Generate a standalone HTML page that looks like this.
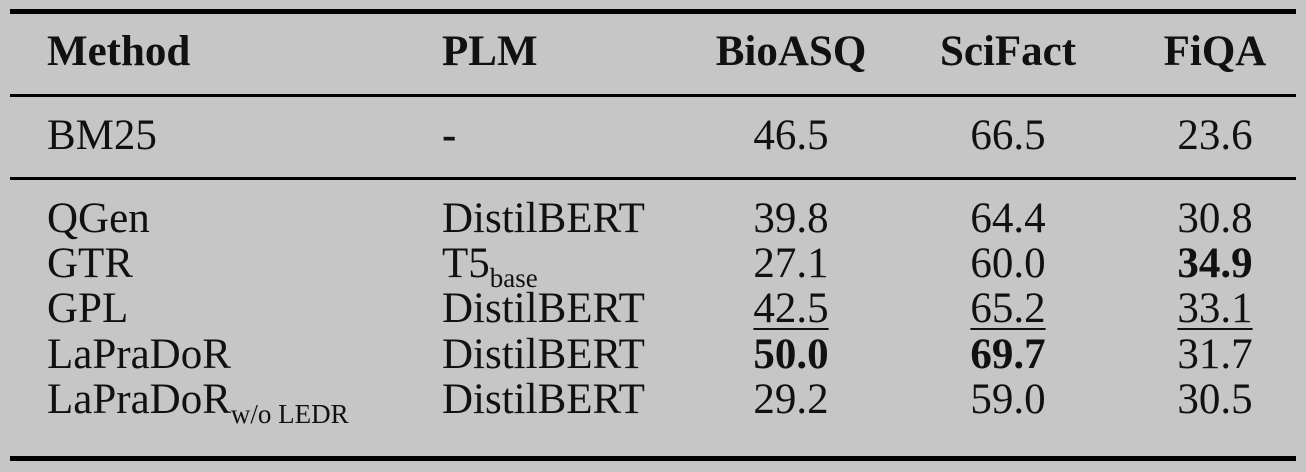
<!DOCTYPE html>
<html><head><meta charset="utf-8"><style>
body{margin:0;width:1306px;height:472px;background:#c6c6c6;position:relative;overflow:hidden;font-family:"Liberation Serif",serif;color:#111}
.r{position:absolute;left:10px;width:1286px;background:#000}
.t{position:absolute;font-size:43px;line-height:44px;white-space:nowrap}
.c{transform:translateX(-50%)}
.b{font-weight:bold}
.u{text-decoration:underline;text-decoration-thickness:2px;text-underline-offset:6px}
sub{font-size:27px;vertical-align:-10px;line-height:0}
</style></head><body>
<div class="r" style="top:9px;height:5px"></div>
<div class="r" style="top:94px;height:3px"></div>
<div class="r" style="top:177px;height:3px"></div>
<div class="r" style="top:456px;height:5px"></div>
<div id="cells"></div>
<script>
const rows=[["Method","PLM","BioASQ","SciFact","FiQA"],["BM25","-","46.5","66.5","23.6"],["QGen","DistilBERT","39.8","64.4","30.8"],["GTR","T5<sub>base</sub>","27.1","60.0","34.9"],["GPL","DistilBERT","42.5","65.2","33.1"],["LaPraDoR","DistilBERT","50.0","69.7","31.7"],["LaPraDoR<sub>w/o LEDR</sub>","DistilBERT","29.2","59.0","30.5"]];
const bold={"1-1":1,"3-4":1,"5-2":1,"5-3":1};
const under={"4-2":1,"4-3":1,"4-4":1};
const baselines=[67,151,234,279,324,370,415];
const xs=[47,442,791,1008,1215];
const root=document.getElementById('cells');
rows.forEach((row,i)=>row.forEach((txt,j)=>{
 const d=document.createElement('div');
 d.className='t'+(j>=2?' c':'')+(i===0||bold[i+'-'+j]?' b':'')+(under[i+'-'+j]?' u':'');
 d.style.left=xs[j]+'px';d.style.top=(baselines[i]-37)+'px';
 d.innerHTML=txt;
 
 
 root.appendChild(d);
}));
</script>
</body></html>
